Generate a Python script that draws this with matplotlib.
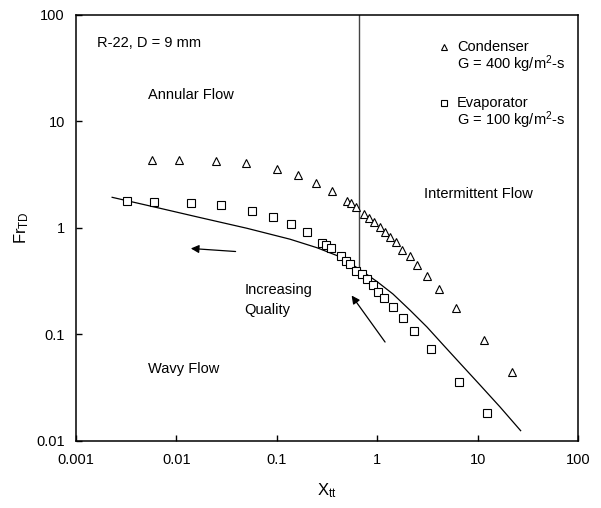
import matplotlib
matplotlib.use('Agg')
import matplotlib.pyplot as plt
from matplotlib.ticker import FixedLocator, FixedFormatter, NullLocator

plt.rcParams['font.family'] = ['Liberation Sans', 'DejaVu Sans']
plt.rcParams['mathtext.fontset'] = 'custom'
plt.rcParams['mathtext.rm'] = 'Liberation Sans'
plt.rcParams['mathtext.it'] = 'Liberation Sans'

# Condenser data, G = 400 kg/m2-s (triangles)
cond_x = [0.00568, 0.0106, 0.0248, 0.0488, 0.101, 0.164, 0.244, 0.352, 0.497, 0.545,
          0.608, 0.745, 0.834, 0.936, 1.067, 1.196, 1.341, 1.538, 1.786, 2.107,
          2.50, 3.16, 4.16, 6.10, 11.6, 21.9]
cond_y = [4.35, 4.35, 4.23, 4.04, 3.58, 3.15, 2.66, 2.22, 1.78, 1.71,
          1.565, 1.354, 1.233, 1.131, 1.015, 0.923, 0.829, 0.740, 0.628, 0.542,
          0.450, 0.356, 0.267, 0.179, 0.0887, 0.0442]

# Evaporator data, G = 100 kg/m2-s (squares)
evap_x = [0.0032, 0.00603, 0.0141, 0.0278, 0.057, 0.0923, 0.138, 0.199, 0.284, 0.309,
          0.347, 0.431, 0.494, 0.536, 0.622, 0.699, 0.786, 0.898, 1.03, 1.18,
          1.43, 1.79, 2.34, 3.44, 6.56, 12.4]
evap_y = [1.79, 1.77, 1.73, 1.63, 1.45, 1.27, 1.10, 0.908, 0.723, 0.692,
          0.642, 0.542, 0.49, 0.456, 0.394, 0.366, 0.330, 0.290, 0.252, 0.218,
          0.181, 0.144, 0.108, 0.0726, 0.0360, 0.0182]

# Wavy / stratified transition curve
curve_x = [0.00229, 0.00631, 0.01718, 0.0501, 0.1352, 0.251, 0.4256, 0.659, 1.0,
           1.435, 2.138, 3.133, 4.571, 6.683, 10.47, 16.71, 26.85]
curve_y = [1.941, 1.560, 1.253, 0.995, 0.785, 0.653, 0.537, 0.412, 0.313,
           0.240, 0.168, 0.1175, 0.0794, 0.0537, 0.0339, 0.0209, 0.0125]

# Annular / intermittent boundary
bound_x = [0.659, 0.659]
bound_y = [100, 0.412]

ticks_x = [0.001, 0.01, 0.1, 1, 10, 100]
ticks_x_lab = ['0.001', '0.01', '0.1', '1', '10', '100']
ticks_y = [0.01, 0.1, 1, 10, 100]
ticks_y_lab = ['0.01', '0.1', '1', '10', '100']

fig = plt.figure(figsize=(6.01, 5.08), dpi=100)
ax = fig.add_axes([0.1265, 0.1319, 0.8352, 0.8386])
ax.set_xscale('log')
ax.set_yscale('log')
ax.set_xlim(0.001, 100)
ax.set_ylim(0.01, 100)

ax.plot(curve_x, curve_y, color='black', lw=0.9)
ax.plot(bound_x, bound_y, color='#444444', lw=1.0)
ax.plot(cond_x, cond_y, ls='none', marker='^', ms=6, mfc='white', mec='black', mew=0.8)
ax.plot(evap_x, evap_y, ls='none', marker='s', ms=5.5, mfc='white', mec='black', mew=0.8)

# arrows
ax.annotate('', xy=(0.01306, 0.645), xytext=(0.0414, 0.599),
            arrowprops=dict(arrowstyle='-|>', color='black', lw=0.9, mutation_scale=12))
ax.annotate('', xy=(0.536, 0.2438), xytext=(1.243, 0.0809),
            arrowprops=dict(arrowstyle='-|>', color='black', lw=0.9, mutation_scale=12))

fs = 10.5
ax.text(0.042, 0.934, 'R-22, D = 9 mm', transform=ax.transAxes, fontsize=fs, va='center')
ax.text(0.143, 0.812, 'Annular Flow', transform=ax.transAxes, fontsize=fs, va='center')
ax.text(0.693, 0.580, 'Intermittent Flow', transform=ax.transAxes, fontsize=fs, va='center')
ax.text(0.335, 0.354, 'Increasing', transform=ax.transAxes, fontsize=fs, va='center')
ax.text(0.335, 0.3075, 'Quality', transform=ax.transAxes, fontsize=fs, va='center')
ax.text(0.143, 0.169, 'Wavy Flow', transform=ax.transAxes, fontsize=fs, va='center')

# legend
ax.plot([0.733], [0.925], transform=ax.transAxes, marker='^', ms=5, mfc='white', mec='black', mew=0.8)
ax.text(0.759, 0.925, 'Condenser', transform=ax.transAxes, fontsize=fs, va='center')
ax.text(0.759, 0.885, r'G = 400 kg/m$^\mathregular{2}$-s', transform=ax.transAxes, fontsize=fs, va='center')
ax.plot([0.733], [0.793], transform=ax.transAxes, marker='s', ms=5, mfc='white', mec='black', mew=0.8)
ax.text(0.759, 0.793, 'Evaporator', transform=ax.transAxes, fontsize=fs, va='center')
ax.text(0.759, 0.7535, r'G = 100 kg/m$^\mathregular{2}$-s', transform=ax.transAxes, fontsize=fs, va='center')

ax.xaxis.set_major_locator(FixedLocator(ticks_x))
ax.xaxis.set_major_formatter(FixedFormatter(ticks_x_lab))
ax.yaxis.set_major_locator(FixedLocator(ticks_y))
ax.yaxis.set_major_formatter(FixedFormatter(ticks_y_lab))
ax.xaxis.set_minor_locator(NullLocator())
ax.yaxis.set_minor_locator(NullLocator())
ax.tick_params(axis='x', direction='in', length=4, width=1, labelsize=fs, pad=9)
ax.tick_params(axis='y', direction='in', length=4, width=1, labelsize=fs, pad=8)
for s in ax.spines.values():
    s.set_linewidth(1.1)

ax.set_xlabel(r'X$_\mathregular{tt}$', fontsize=12, labelpad=10)
ax.set_ylabel(r'Fr$_\mathregular{TD}$', fontsize=12, labelpad=4)

fig.savefig('out.png', dpi=100)
